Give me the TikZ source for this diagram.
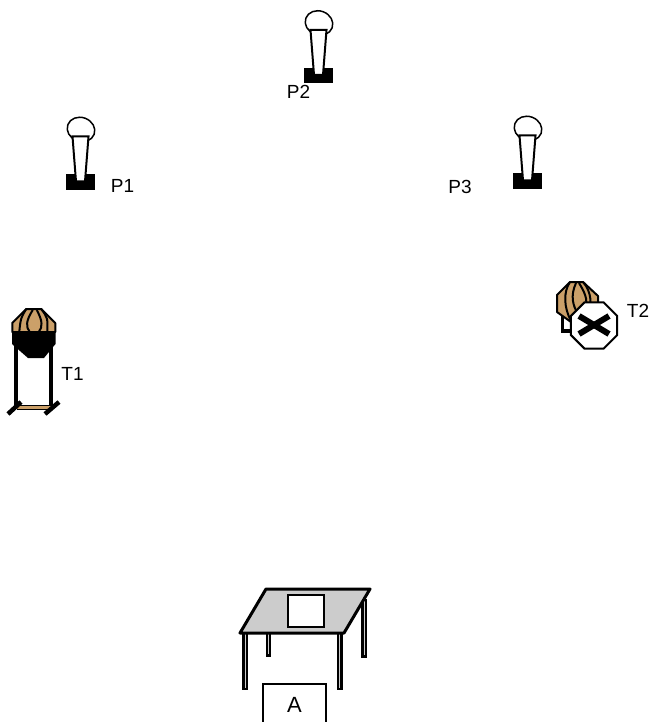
\documentclass[tikz,border=0pt]{standalone}
\usepackage{fontspec}
\setmainfont{Liberation Sans}
\usetikzlibrary{shapes, positioning, calc}
\definecolor{speakertan}{RGB}{203, 160, 105}
\definecolor{tablegray}{RGB}{204, 204, 204}

\tikzset{
  label/.style={inner sep=0pt, font=\fontsize{19}{21}\selectfont},
  outline/.style={draw=black, line width=2pt, line join=round},
  panel/.style={outline, fill=speakertan},
  rib/.style={draw=black, line width=2pt},
  tableleg/.style={draw=black, fill=tablegray, line width=2.5pt},
  pics/person/.style={code={
    \fill[black] (-14.5,-8) rectangle (14.5,7.5);
    \draw[line width=1.5pt, fill=white, rotate around={-20:(0.5,-53)}] (0.5,-53) ellipse (14 and 12);
    \draw[line width=2pt, fill=white] (-8,-46) -- (8,-46) -- (4.5,-1) -- (-4.5,-1) -- cycle;
  }},
  pics/speakerhead/.style={code={
    % octagon with its ribs
    \draw[panel] (-7.5,0) -- (7.5,0) -- (21.5,14) -- (21.5,23) -- (-21.5,23) -- (-21.5,14) -- cycle;
    \draw[rib] (-7.5,0) .. controls (-13,9) .. (-14.5,23);
    \draw[rib] (7.5,0) .. controls (14,9) .. (13.5,23);
    \draw[rib] (-1,1) .. controls (-8,12) and (-8,18) .. (-4,23);
    \draw[rib] (3,1) .. controls (9,12) and (9,18) .. (5,23);
  }}
}

\begin{document}
\begin{tikzpicture}[x=1pt, y=-1pt]
  \useasboundingbox (0,0) rectangle (650,722);

  % people
  \pic at (318.5,76) {person};
  \pic at (80.5,182.5) {person};
  \pic at (527.5,181.5) {person};
  \node[label] (labelp2) at (298.5,92) {P2};
  \node[label] (labelp1) at (122.5,186) {P1};
  \node[label] (labelp3) at (460,187) {P3};

  % left speaker
  \draw[black, line width=4pt] (16,340) -- (16,408);
  \draw[black, line width=4pt] (51,340) -- (51,408);
  \fill[speakertan] (17,406) rectangle (51,409);
  \draw[black, line width=1pt] (17,409.5) -- (51,409.5);
  \draw[black, line width=1pt] (17,405) -- (51,405);
  \draw[black, line width=4.5pt] (8,414) -- (21,402);
  \draw[black, line width=4.5pt] (45,414) -- (59,402);
  \fill[black] (12,332) -- (55.5,332) -- (55.5,344) -- (44,358) -- (28,358) -- (12,344) -- cycle;
  \pic at (33.75,309) {speakerhead};
  \node[label] (labelt1) at (72.5,374) {T1};

  % right speaker, switched off
  \draw[black, line width=3.5pt] (562.5,310) -- (562.5,331) -- (574,331);
  \draw[panel] (570,282) -- (583,282) -- (598,296) -- (598,316) -- (584,328) -- (571,322) -- (557,312) -- (557,295) -- cycle;
  \draw[rib] (570,282) .. controls (563,292) and (564,308) .. (571,321);
  \draw[rib] (583,282) .. controls (592,292) and (592,306) .. (588,316);
  \draw[rib] (576,283) .. controls (570,296) and (573,306) .. (578,314);
  \draw[rib] (579,283) .. controls (587,296) and (588,302) .. (584,310);
  \node[regular polygon, regular polygon sides=8, draw=black, line width=2pt, fill=white, minimum size=50pt, inner sep=0pt] (stopsign) at (594,325.5) {};
  \draw[black, line width=6pt] (579,316) -- (609,334);
  \draw[black, line width=6pt] (609,316) -- (579,334);
  \node[label] (labelt2) at (638,311) {T2};

  % table
  \draw[tableleg] (243.5,633) rectangle (247,689);
  \draw[tableleg] (338,633) rectangle (341.5,689);
  \draw[tableleg] (267,633) rectangle (270,655.5);
  \draw[tableleg] (362.5,600) rectangle (366,656.5);
  \draw[fill=tablegray, line width=3pt, line join=round] (266,589) -- (370,589) -- (344,633) -- (240,633) -- cycle;
  \node[draw=black, line width=1.2pt, fill=white, minimum width=36pt, minimum height=32pt, inner sep=0pt] (paper) at (306,611) {};

  % seat
  \node[draw=black, line width=1.2pt, minimum width=63pt, minimum height=42pt, inner sep=0pt, font=\fontsize{22}{24}\selectfont] (boxa) at (294.5,705) {A};
\end{tikzpicture}
\end{document}
